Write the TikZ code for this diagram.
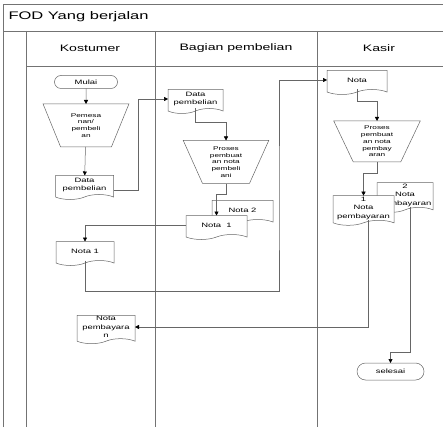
\documentclass[tikz,border=0pt]{standalone}
\usepackage{fontspec}
\setmainfont{Liberation Sans}[FakeStretch=1.5]
\usetikzlibrary{arrows.meta,shapes.geometric,shapes.misc,shapes.symbols}

\begin{document}
\begin{tikzpicture}[x=1pt,y=-1pt,
  lane/.style={black!55,line width=0.5pt},
  box/.style={draw=black!60,line width=0.5pt,fill=white,inner sep=1pt,outer sep=0pt,align=center},
  terminal/.style={box,rounded rectangle,minimum width=65pt,minimum height=13pt,font=\fontsize{6.3}{8}\selectfont},
  manual/.style={box,trapezium,shape border rotate=180,trapezium left angle=67,trapezium right angle=67,
    trapezium stretches=true,minimum width=86pt,minimum height=43pt,font=\fontsize{5.5}{6.8}\selectfont},
  doc/.style={box,tape,tape bend top=none,tape bend bottom=in and out,tape bend height=5pt,
    minimum width=58pt,minimum height=24pt,font=\fontsize{6.3}{8.5}\selectfont},
  arr/.style={black!60,line width=0.5pt,-{Triangle[length=4pt,width=4pt,black]}}]
\useasboundingbox (0,0) rectangle (443,427);
% frame and lanes
\draw[lane] (3,427) -- (3,4) -- (443,4);
\draw[lane] (3,31) -- (443,31);
\draw[lane] (26,66) -- (443,66);
\draw[lane] (26,31) -- (26,427);
\draw[lane] (155,31) -- (155,427);
\draw[lane] (317,31) -- (317,427);
\node[anchor=west,font=\fontsize{11}{13}\selectfont] (title) at (5,17) {FOD Yang berjalan};
\node[font=\fontsize{9.4}{11}\selectfont] (hkostumer) at (90,48) {Kostumer};
\node[font=\fontsize{9.4}{11}\selectfont] (hbagian) at (236,48) {Bagian pembelian};
\node[font=\fontsize{9.4}{11}\selectfont] (hkasir) at (379,48) {Kasir};

% Kostumer
\node[terminal] (mulai) at (86,82) {Mulai};
\node[manual] (pesan) at (86,125.5) {Pemesa\\nan/\\pembeli\\an};
\node[doc] (datak) at (84.5,185) {Data\\pembelian};
\node[doc] (nota1k) at (85,251) {Nota 1};
\node[doc] (bayark) at (106,327) {Nota\\pembayara\\n};

% Bagian pembelian
\node[doc,minimum width=55pt] (datab) at (195.5,99) {Data\\pembelian};
\node[manual] (buatb) at (226,162) {Proses\\pembuat\\an nota\\pembeli\\ani};
\node[doc,minimum width=61pt] (nota2b) at (242.5,210) {Nota 2};
\node[doc,minimum width=61pt] (nota1b) at (216.5,225) {Nota~ 1};

% Kasir
\node[doc,minimum width=60pt] (notaks) at (357,80) {Nota};
\node[manual,minimum width=87pt,minimum height=41pt] (buatk) at (377,141.5) {Proses\\pembuat\\an nota\\pembay\\aran};
\node[doc,minimum width=56pt] (bayar2) at (405,195) {2\\Nota\\pembayaran};
\node[doc,minimum width=61pt] (bayar1) at (363.5,208) {1\\Nota\\pembayaran};
\node[terminal,minimum width=69pt,minimum height=17pt] (selesai) at (390.5,371.5) {selesai};

% connectors
\draw[arr] (mulai) -- (pesan);
\draw[arr] (pesan) -- (datak);
\draw[arr] ([yshift=-5pt]datak.east) -- ++(25,0) |- (datab.west);
\draw[arr] (datab.south) -- ++(0,14) -| (buatb.north);
\draw[arr] (buatb.south) -- ++(0,11) -| (nota1b.north);
\draw[arr] (nota1b.west) -| (nota1k.north);
\draw[arr] (nota1k.south) -- ++(0,31) -| ([xshift=6pt]nota2b.east) |- (notaks.west);
\draw[arr] (notaks.south) -- ++(0,12) -| (buatk.north);
\draw[arr] (buatk.south) -- ++(0,11) -| (bayar1.north);
\draw[arr] ([xshift=5pt]bayar1.south) |- (bayark.east);
\draw[arr] ([xshift=5pt]bayar2.south) -- ++(0,145) -| (selesai.north);
\end{tikzpicture}
\end{document}
